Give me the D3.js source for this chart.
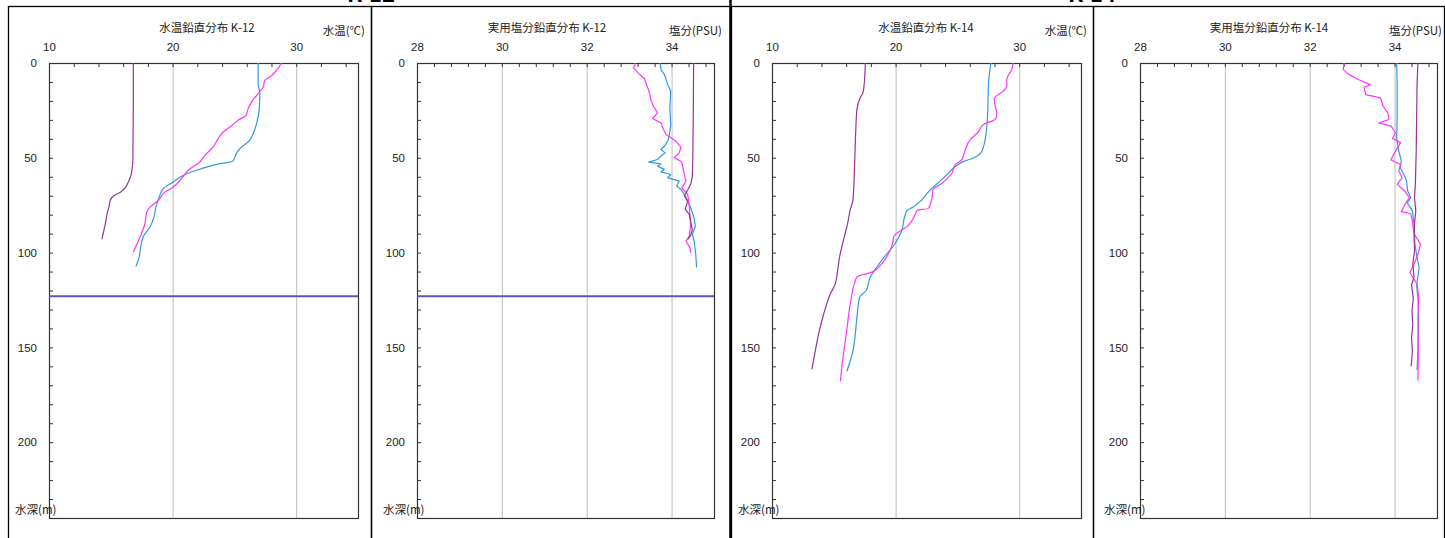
<!DOCTYPE html>
<html><head><meta charset="utf-8">
<script src="https://cdn.jsdelivr.net/npm/d3@7"></script>
<style>
html,body{margin:0;padding:0;background:#fff;}
svg{display:block;font-family:"Noto Sans CJK JP","DejaVu Sans",sans-serif;}
</style></head>
<body><svg id="c" width="1445" height="538"></svg>
<script>
// ---------- data: [depth (m), value] ----------
const tempTicks = [10, 20, 30];
const salTicks = [28, 30, 32, 34];
const depthTicks = [0, 50, 100, 150, 200];
const stationHeaders = ["K-12", "K-14"];
const panelTitles = ["水温鉛直分布 K-12", "実用塩分鉛直分布 K-12", "水温鉛直分布 K-14", "実用塩分鉛直分布 K-14"];
const unitLabels = ["水温(℃)", "塩分(PSU)", "水温(℃)", "塩分(PSU)"];
const depthLabel = "水深(m)";
const k12BottomDepth = 123;

const k12TempPurple = [[0,16.82],[20,16.82],[40,16.8],[52,16.78],[56,16.72],[60,16.6],[63,16.4],[66,16.15],[68,15.8],[70,15.25],[72.5,14.95],[76,14.85],[79,14.72],[84,14.58],[88,14.45],[93,14.28]];
const k12TempBlue = [[0,26.92],[10.9,26.92],[16.2,27.06],[25,27.0],[32,26.79],[37.3,26.52],[41.7,26.11],[44.3,25.58],[47,25.22],[49.6,25.04],[51.9,24.85],[53.1,23.82],[54.9,22.75],[56.6,21.94],[59.3,20.86],[62.8,20.05],[66.3,19.24],[70.7,18.92],[76,18.65],[81.3,18.49],[86.5,18.17],[90.9,17.68],[97.1,17.41],[102.4,17.3],[107.3,17.03]];
const k12TempMagenta = [[0,28.81],[3.9,28.41],[7.4,27.87],[9.1,27.46],[12.6,27.33],[16.2,26.92],[19.7,26.47],[24.1,26.11],[27.6,25.93],[30.2,25.3],[33.8,24.63],[36.4,24.09],[40,23.68],[44.3,23.28],[48.7,22.61],[52.2,22.2],[56.6,21.26],[61,20.72],[65.4,20.05],[68.1,19.38],[72.5,18.84],[76,18.17],[78.6,17.9],[84.8,17.76],[91.8,17.36],[99.7,16.82]];

const k12SalPurple = [[0,34.52],[30,34.51],[50,34.5],[60,34.49],[64,34.45],[67,34.38],[70,34.3],[73,34.38],[77,34.32],[80,34.42],[84,34.45],[88,34.49],[91,34.45],[93,34.38]];
const k12SalBlue = [[0,33.73],[3.5,33.75],[6.1,33.83],[11.4,33.91],[15,33.98],[23.7,33.96],[32.5,33.98],[37.7,33.95],[41.2,33.91],[43.9,33.83],[45.6,33.75],[47.4,33.85],[49.1,33.75],[50.9,33.67],[52.3,33.46],[53.2,33.75],[54.4,33.67],[56.1,33.83],[57.4,33.75],[58.8,33.98],[60.5,33.91],[62.3,34.18],[64.9,34.12],[66.7,34.22],[69.3,34.3],[72.8,34.38],[76.3,34.45],[81.6,34.53],[86,34.56],[90.4,34.49],[93.9,34.53],[100.9,34.57],[107.9,34.59]];
const k12SalMagenta = [[0,33.15],[2.6,33.1],[6.1,33.25],[8.2,33.36],[11.4,33.41],[15,33.47],[19.3,33.51],[22.8,33.57],[26.3,33.67],[29.3,33.55],[31.6,33.75],[34.6,33.8],[37.7,33.87],[41.2,34.1],[44.4,34.22],[47.4,34.18],[50,34.06],[52.1,34.24],[58.8,34.3],[62.3,34.34],[65.8,34.24],[69.3,34.38],[76.3,34.42],[85.1,34.45],[91.2,34.42],[93.9,34.34],[97.4,34.43],[100,34.45]];

const k14TempPurple = [[0,17.55],[10.3,17.47],[15.6,17.36],[18.2,17.14],[24.4,16.87],[36.8,16.77],[54.5,16.68],[72.2,16.55],[77.5,16.33],[84.6,16.12],[91.7,15.85],[102.3,15.47],[109.4,15.31],[116.5,15.12],[121.8,14.72],[132.4,14.18],[143,13.77],[151.9,13.5],[161.6,13.23]];
const k14TempBlue = [[0,27.71],[10.3,27.52],[28,27.44],[36.8,27.33],[43.9,27.12],[47.4,26.9],[50.1,26.31],[51.9,25.5],[55.4,24.69],[58,24.29],[63.4,23.4],[67.8,22.67],[72.2,22.13],[75.8,21.46],[77.9,20.92],[81.1,20.73],[88.1,20.51],[95.2,19.97],[102.3,19.08],[107.6,18.49],[112.9,17.95],[120,17.63],[123.5,17.09],[134.2,16.87],[143,16.74],[151.9,16.55],[157.2,16.33],[162.5,16.06]];
const k14TempMagenta = [[0,29.49],[3.2,29.41],[8.5,29.0],[12,29.0],[14.7,28.73],[18.8,27.98],[22.7,28.06],[27.1,28.19],[29.7,28.06],[32.4,27.12],[36.8,26.63],[40.4,26.04],[45.7,25.63],[51,25.36],[53.6,24.82],[58,24.56],[63.4,23.75],[66.9,23.02],[71.3,22.94],[76.6,22.67],[77.9,21.73],[81.1,21.51],[85.5,21.05],[91.7,19.84],[94.3,19.78],[100.5,19.43],[105.8,18.89],[110.3,18.09],[112.9,16.87],[116.5,16.66],[127.1,16.33],[143,16.01],[155.4,15.74],[167.8,15.53]];

const k14SalPurple = [[0,34.55],[11.4,34.53],[29,34.52],[46.5,34.51],[64,34.49],[71,34.47],[78,34.5],[85,34.47],[92,34.46],[99,34.47],[106,34.43],[113,34.46],[117,34.4],[124,34.44],[131,34.41],[138,34.43],[145,34.4],[152,34.42],[160,34.39]];
const k14SalBlue = [[0,34.05],[11.4,34.06],[29,34.06],[39.5,34.05],[46.5,34.1],[51.8,34.16],[55,34.13],[59,34.22],[62,34.28],[67.5,34.31],[71,34.38],[73.7,34.3],[78,34.42],[85,34.46],[95.6,34.48],[102.6,34.53],[108,34.58],[117,34.52],[124,34.55],[134,34.57],[152,34.55],[162,34.53]];
const k14SalMagenta = [[0,32.81],[3.5,32.79],[6,32.92],[8.8,33.16],[11.4,33.43],[12.8,33.28],[16.7,33.32],[18.4,33.67],[22.8,33.73],[26.3,33.84],[29.8,33.87],[31.6,33.63],[33.3,33.92],[36.8,34.02],[39.8,33.95],[42,34.14],[46.5,34.02],[51,33.91],[53.5,34.14],[57,34.1],[60.5,34.18],[64,34.06],[67.5,34.24],[71,34.35],[74.6,34.24],[78.4,34.16],[79.5,34.38],[83.3,34.42],[90,34.46],[95.6,34.61],[100.9,34.55],[106,34.46],[110.5,34.36],[116.7,34.53],[123.7,34.57],[134,34.55],[151.8,34.56],[167.5,34.55]];

// ---------- drawing ----------
const colors = {purple:"#993399", blue:"#3399dd", magenta:"#ff33ff", seabed:"#5a5ab4"};
const svg = d3.select("#c");

// panel frames
const frames = [[8,371],[371,730],[731,1093],[1093,1444]];
frames.forEach(([a,b]) => {
  svg.append("rect").attr("x",a+0.5).attr("y",6.5).attr("width",b-a).attr("height",560)
    .attr("fill","none").attr("stroke","#000").attr("stroke-width",1.3);
});
svg.append("line").attr("x1",730.5).attr("x2",730.5).attr("y1",0).attr("y2",538).attr("stroke","#000").attr("stroke-width",2.5);

// cut-off page headers (only their lower edge shows, as in the reference)
svg.selectAll("text.hdr").data(stationHeaders).join("text").attr("class","hdr")
  .attr("x",(d,i)=> i===0 ? 371 : 1092).attr("y",1.5).attr("text-anchor","middle")
  .attr("font-size",22).attr("font-weight","bold").attr("fill","#000").text(d=>d);

const panels = [
  {left:49, right:358, domain:[10,35], major:tempTicks, minorStep:2, minorMax:34, series:[k12TempPurple,k12TempBlue,k12TempMagenta], seabed:true, titleX:207, unitX:365, depthX:15, smooth:true},
  {left:417, right:714, domain:[28,35], major:salTicks, minorStep:0.4, minorMax:34.8, series:[k12SalPurple,k12SalBlue,k12SalMagenta], seabed:true, titleX:547, unitX:722, depthX:383, smooth:false},
  {left:772, right:1081, domain:[10,35], major:tempTicks, minorStep:2, minorMax:34, series:[k14TempPurple,k14TempBlue,k14TempMagenta], seabed:false, titleX:926, unitX:1087, depthX:738, smooth:true},
  {left:1140, right:1437, domain:[28,35], major:salTicks, minorStep:0.4, minorMax:34.8, series:[k14SalPurple,k14SalBlue,k14SalMagenta], seabed:false, titleX:1269, unitX:1442, depthX:1104, smooth:false}
];
const plotTop = 63, plotBot = 518;
const y = d3.scaleLinear().domain([0,240]).range([plotTop,plotBot]);

panels.forEach((p,i) => {
  const x = d3.scaleLinear().domain(p.domain).range([p.left,p.right]);
  const g = svg.append("g");
  const minor = d3.range(p.domain[0], p.minorMax+1e-6, p.minorStep);

  // vertical grid
  g.append("g").attr("transform",`translate(0,${plotBot})`)
    .call(d3.axisBottom(x).tickValues(p.major.slice(1)).tickSize(-(plotBot-plotTop)).tickFormat(""))
    .call(s=>{s.select(".domain").remove(); s.selectAll("line").attr("stroke","#bdbdbd").attr("stroke-width",1);});

  // top minor ticks (inward)
  g.append("g").attr("transform",`translate(0,${plotTop})`)
    .call(d3.axisTop(x).tickValues(minor).tickSize(-4).tickFormat(""))
    .call(s=>{s.select(".domain").remove(); s.selectAll("line").attr("stroke","#333");});
  // top labels
  g.append("g").attr("transform",`translate(0,${plotTop})`)
    .call(d3.axisTop(x).tickValues(p.major).tickSize(0).tickPadding(12).tickFormat(d3.format("d")))
    .call(s=>{s.select(".domain").remove(); s.selectAll("text").attr("font-size",11.5).attr("fill","#222").attr("font-family","inherit");});

  // left minor ticks
  g.append("g").attr("transform",`translate(${p.left},0)`)
    .call(d3.axisLeft(y).tickValues(d3.range(0,241,10)).tickSize(-4).tickFormat(""))
    .call(s=>{s.select(".domain").remove(); s.selectAll("line").attr("stroke","#333");});
  g.append("g").attr("transform",`translate(${p.left},0)`)
    .call(d3.axisLeft(y).tickValues(depthTicks).tickSize(0).tickPadding(12).tickFormat(d3.format("d")))
    .call(s=>{s.select(".domain").remove(); s.selectAll("text").attr("font-size",11.5).attr("fill","#222").attr("font-family","inherit");});

  // plot box
  g.append("rect").attr("x",p.left+0.5).attr("y",plotTop+0.5).attr("width",p.right-p.left).attr("height",plotBot-plotTop)
    .attr("fill","none").attr("stroke","#333").attr("stroke-width",1.2);

  // seabed line
  if (p.seabed) {
    g.append("line").attr("x1",x(p.domain[0])).attr("x2",x(p.domain[1]))
      .attr("y1",y(k12BottomDepth)).attr("y2",y(k12BottomDepth))
      .attr("stroke",colors.seabed).attr("stroke-width",2);
  }

  // profiles
  const line = d3.line().x(d=>x(d[1])).y(d=>y(d[0])).curve(p.smooth ? d3.curveMonotoneY : d3.curveLinear);
  const cols = [colors.purple, colors.blue, colors.magenta];
  [1,2,0].forEach(k => {
    g.append("path").datum(p.series[k]).attr("d",line).attr("fill","none")
      .attr("stroke",cols[k]).attr("stroke-width",1.2).attr("stroke-linejoin","round");
  });

  // texts
  g.append("text").attr("x",p.titleX).attr("y",32).attr("text-anchor","middle").attr("font-size",11.5).attr("fill","#222").text(panelTitles[i]);
  g.append("text").attr("x",p.unitX).attr("y",35).attr("text-anchor","end").attr("font-size",11.5).attr("fill","#222").text(unitLabels[i]);
  g.append("text").attr("x",p.depthX).attr("y",514).attr("font-size",11.5).attr("fill","#222").text(depthLabel);
});
</script></body></html>
